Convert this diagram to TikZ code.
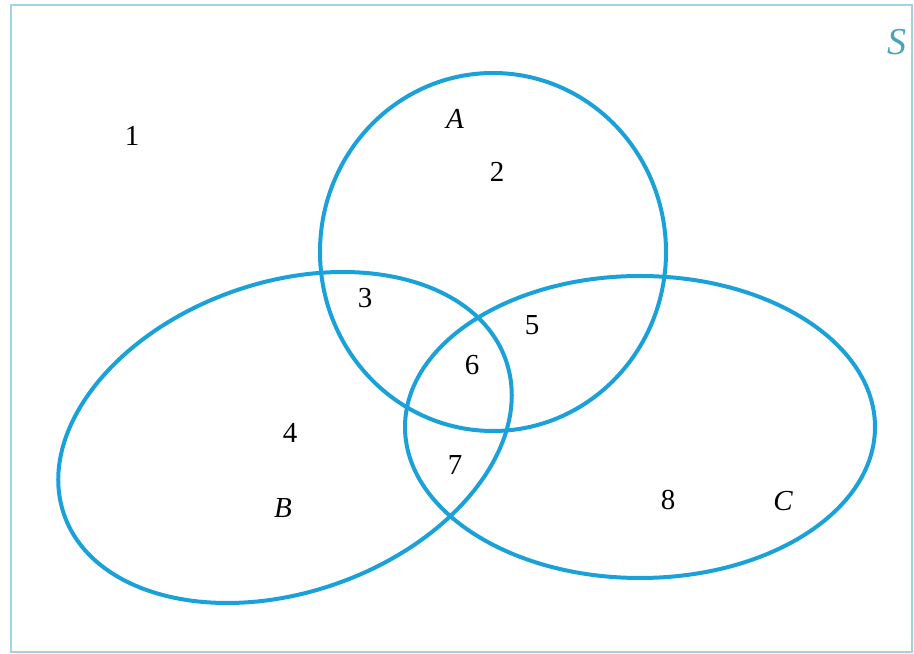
\documentclass[tikz,border=0pt]{standalone}
\usepackage{fontspec}
\setmainfont{Liberation Serif}
\definecolor{venn}{RGB}{27,161,217}
\definecolor{frame}{RGB}{160,212,226}
\definecolor{slabel}{RGB}{70,165,185}
\begin{document}
\begin{tikzpicture}[x=1pt,y=1pt,
  setline/.style={draw=venn,line width=4pt},
  lbl/.style={font=\fontsize{29}{31}\selectfont,inner sep=0pt},
  ilbl/.style={font=\fontsize{29}{31}\selectfont\itshape,inner sep=0pt}]
\useasboundingbox (0,0) rectangle (914,654);
\draw[frame,line width=2pt] (10.5,1.5) rectangle (912,648.5);
% sets
\draw[setline] (493,402) ellipse [x radius=173, y radius=179];
\draw[setline,rotate around={19.3:(285,216.5)}] (285,216.5) ellipse [x radius=234, y radius=155];
\draw[setline] (640,227) ellipse [x radius=235, y radius=151];
% labels
\node[lbl] (n1) at (132,518) {1};
\node[ilbl] (lA) at (455,535) {A};
\node[lbl] (n2) at (497,482) {2};
\node[lbl] (n3) at (365,356) {3};
\node[lbl] (n5) at (532,329) {5};
\node[lbl] (n6) at (472,289) {6};
\node[lbl] (n4) at (290,221) {4};
\node[lbl] (n7) at (455,189) {7};
\node[ilbl] (lB) at (283,146) {B};
\node[lbl] (n8) at (668,154) {8};
\node[ilbl] (lC) at (783,153) {C};
\node[font=\fontsize{38}{40}\selectfont\itshape,inner sep=0pt,text=slabel] (lS) at (897,612) {S};
\end{tikzpicture}
\end{document}
